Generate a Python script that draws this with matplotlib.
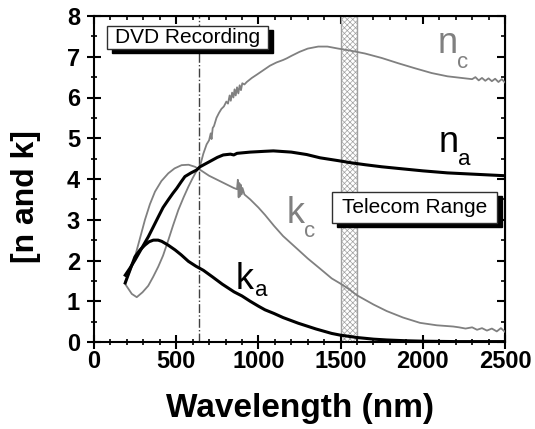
import matplotlib
matplotlib.use('Agg')
import matplotlib.pyplot as plt
from matplotlib.patches import Rectangle

plt.rcParams['font.family'] = ['Liberation Sans', 'DejaVu Sans']
plt.rcParams['hatch.linewidth'] = 0.5

# Data (wavelength in nm)
nc_wl = [190, 210, 230, 260, 295, 330, 360, 391, 420, 452, 480, 513, 545, 574, 600, 624,
         645, 665, 685, 700, 710, 715, 722, 730, 745, 760, 775, 790, 805, 815, 825, 832,
         840, 848, 855, 862, 870, 878, 886, 894, 902, 915, 929, 960, 990, 1030, 1070,
         1110, 1150, 1172, 1200, 1250, 1300, 1364, 1420, 1486, 1560, 1648, 1750, 1851,
         1950, 2054, 2150, 2257, 2300, 2320, 2340, 2360, 2380, 2400, 2420, 2440, 2460,
         2480, 2500]
nc = [1.42, 1.30, 1.18, 1.10, 1.22, 1.38, 1.60, 1.85, 2.12, 2.50, 2.85, 3.24, 3.55, 3.81,
      4.02, 4.20, 4.32, 4.62, 4.85, 4.95, 5.12, 4.98, 5.25, 5.30, 5.50, 5.62, 5.72, 5.78,
      5.90, 5.85, 6.05, 5.92, 6.12, 6.00, 6.20, 6.05, 6.25, 6.10, 6.30, 6.18, 6.35, 6.32,
      6.38, 6.48, 6.56, 6.67, 6.78, 6.86, 6.92, 6.96, 7.02, 7.12, 7.20, 7.25, 7.25, 7.20,
      7.15, 7.08, 6.97, 6.84, 6.72, 6.60, 6.52, 6.47, 6.45, 6.50, 6.42, 6.48, 6.41, 6.47,
      6.40, 6.46, 6.38, 6.45, 6.37]

kc_wl = [190, 220, 249, 280, 310, 340, 371, 410, 452, 490, 533, 575, 614, 640, 700, 750,
         800, 850, 870, 875, 880, 884, 888, 892, 897, 903, 915, 950, 1000, 1040, 1095,
         1150, 1243, 1300, 1375, 1446, 1496, 1550, 1598, 1700, 1780, 1880, 1983, 2085,
         2185, 2220, 2260, 2300, 2330, 2360, 2390, 2420, 2450, 2475, 2500]
kc = [1.48, 1.75, 2.09, 2.55, 3.00, 3.38, 3.69, 3.95, 4.14, 4.26, 4.34, 4.35, 4.30, 4.24,
      4.08, 3.98, 3.88, 3.78, 3.75, 3.98, 3.55, 3.90, 3.58, 3.86, 3.62, 3.78, 3.62, 3.50,
      3.30, 3.12, 2.85, 2.60, 2.26, 2.05, 1.80, 1.56, 1.44, 1.30, 1.15, 0.92, 0.76, 0.60,
      0.47, 0.41, 0.38, 0.36, 0.33, 0.36, 0.30, 0.34, 0.28, 0.33, 0.26, 0.34, 0.25]

na_wl = [190, 220, 249, 290, 330, 360, 391, 420, 452, 480, 503, 530, 553, 590, 624, 645,
         700, 750, 786, 830, 850, 870, 950, 1040, 1091, 1200, 1294, 1375, 1486, 1560,
         1650, 1750, 1849, 2000, 2150, 2300, 2400, 2500]
na = [1.64, 1.82, 2.01, 2.30, 2.58, 2.82, 3.07, 3.30, 3.49, 3.65, 3.77, 3.93, 4.06, 4.15,
      4.22, 4.30, 4.42, 4.53, 4.59, 4.61, 4.59, 4.63, 4.66, 4.68, 4.69, 4.66, 4.60, 4.52,
      4.45, 4.40, 4.35, 4.30, 4.26, 4.20, 4.15, 4.12, 4.10, 4.08]

ka_wl = [190, 220, 249, 280, 310, 335, 361, 390, 412, 450, 493, 530, 574, 620, 665, 720,
         780, 852, 900, 950, 1000, 1040, 1095, 1150, 1243, 1350, 1446, 1496, 1600, 1700,
         1780, 1900, 2000, 2200, 2500]
ka = [1.45, 1.78, 2.09, 2.26, 2.38, 2.46, 2.50, 2.50, 2.47, 2.38, 2.26, 2.14, 1.98, 1.86,
      1.76, 1.60, 1.42, 1.23, 1.13, 1.00, 0.88, 0.79, 0.70, 0.60, 0.46, 0.32, 0.21, 0.17,
      0.11, 0.07, 0.05, 0.03, 0.02, 0.01, 0.01]

dvd_wl = 640
telecom = (1500, 1600)

gray = '#808080'

fig = plt.figure(figsize=(5.35, 4.29), dpi=100)
ax = fig.add_axes([94 / 535, 87 / 429, 411 / 535, 326 / 429])

ax.axvspan(telecom[0], telecom[1], facecolor='white', edgecolor='#a0a0a0',
           hatch='xxxxxx', linewidth=1.0, zorder=1)
ax.axvline(dvd_wl, color='#404040', linestyle='-.', linewidth=1.0, zorder=2)

ax.plot(nc_wl, nc, color=gray, linewidth=1.3, zorder=3)
ax.plot(kc_wl, kc, color=gray, linewidth=1.3, zorder=3)
ax.plot(na_wl, na, color='black', linewidth=2.2, zorder=4)
ax.plot(ka_wl, ka, color='black', linewidth=2.2, zorder=4)

ax.set_xlim(0, 2500)
ax.set_ylim(0, 8)
ax.set_xticks([0, 500, 1000, 1500, 2000, 2500])
ax.set_xticks(range(0, 2501, 100), minor=True)
ax.set_yticks(range(0, 9))
ax.set_yticks([i * 0.5 for i in range(17)], minor=True)

ax.tick_params(which='major', direction='inout', length=10, width=1.5, labelsize=17)
ax.tick_params(which='minor', direction='inout', length=5, width=1.2)
ax.tick_params(axis='x', which='major', pad=1)
ax.tick_params(axis='y', which='major', pad=5)
for lab in ax.get_xticklabels() + ax.get_yticklabels():
    lab.set_fontweight('bold')
for sp in ax.spines.values():
    sp.set_linewidth(1.5)

# ticks on top and right, pointing inwards, no labels
top = ax.secondary_xaxis('top')
top.set_xticks([0, 500, 1000, 1500, 2000, 2500])
top.set_xticks(range(0, 2501, 100), minor=True)
top.tick_params(which='major', direction='in', length=6, width=1.5, labeltop=False)
top.tick_params(which='minor', direction='in', length=3, width=1.2)
right = ax.secondary_yaxis('right')
right.set_yticks(range(0, 9))
right.set_yticks([i * 0.5 for i in range(17)], minor=True)
right.tick_params(which='major', direction='in', length=6, width=1.5, labelright=False)
right.tick_params(which='minor', direction='in', length=3, width=1.2)

ax.set_xlabel('Wavelength (nm)', fontsize=24, fontweight='bold')
ax.set_ylabel('[n and k]', fontsize=23, fontweight='bold')
ax.xaxis.set_label_coords(0.5, -0.155)
ax.yaxis.set_label_coords(-0.128, 0.445)

# curve labels
ax.text(2093, 7.09, 'n', fontsize=26, color=gray, ha='left', va='baseline')
ax.text(2210, 6.72, 'c', fontsize=16, color=gray, ha='left', va='baseline')
ax.text(2099, 4.66, 'n', fontsize=26, color='black', ha='left', va='baseline')
ax.text(2216, 4.34, 'a', fontsize=16, color='black', ha='left', va='baseline')
ax.text(1174, 2.92, 'k', fontsize=26, color=gray, ha='left', va='baseline')
ax.text(1275, 2.58, 'c', fontsize=16, color=gray, ha='left', va='baseline')
ax.text(862, 1.30, 'k', fontsize=26, color='black', ha='left', va='baseline')
ax.text(978, 1.14, 'a', fontsize=16, color='black', ha='left', va='baseline')


def shadow_box(x0, y0, x1, y1, text):
    # pixel coords measured from the top-left of the figure
    W, H = 535, 429
    sh = Rectangle(((x0 + 5) / W, 1 - (y1 + 4) / H), (x1 - x0) / W, (y1 - y0) / H,
                   transform=fig.transFigure, facecolor='black', edgecolor='black',
                   zorder=10)
    bx = Rectangle((x0 / W, 1 - y1 / H), (x1 - x0) / W, (y1 - y0) / H,
                   transform=fig.transFigure, facecolor='white', edgecolor='#303030',
                   linewidth=1.0, zorder=11)
    fig.add_artist(sh)
    fig.add_artist(bx)
    fig.text((x0 + x1) / 2 / W, 1 - (y0 + y1) / 2 / H, text, fontsize=15,
             ha='center', va='center', zorder=12)


shadow_box(107, 26, 268, 49, 'DVD Recording')
shadow_box(332, 192, 497, 223, 'Telecom Range')

fig.savefig('out.png', dpi=100)
